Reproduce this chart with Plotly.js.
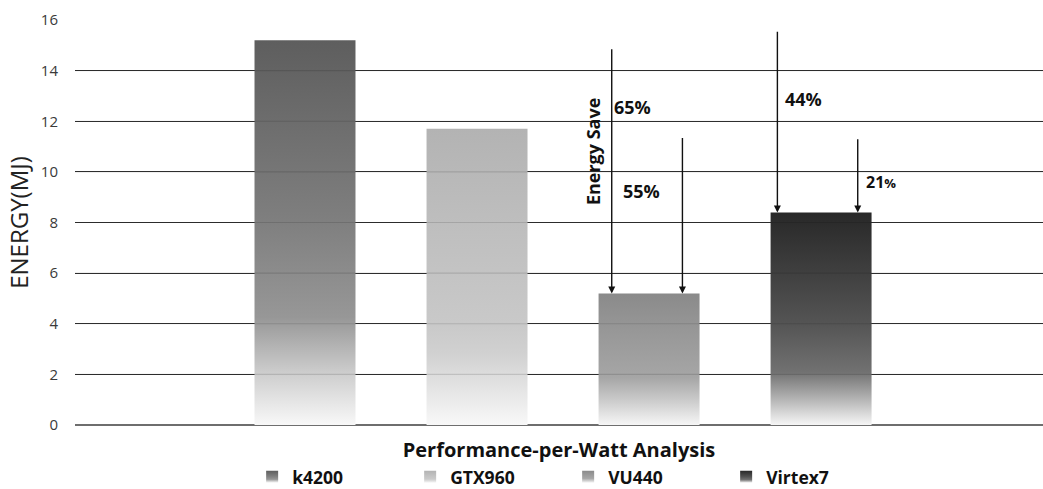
<!DOCTYPE html>
<html>
<head>
<meta charset="utf-8">
<script src="https://cdn.plot.ly/plotly-3.0.1.min.js"></script>
<style>html,body{margin:0;padding:0;background:#fff;}#chart{width:1043px;height:489px;}</style>
</head>
<body>
<div id="chart"></div>
<script>
// ---- data ----
var categories = ['k4200', 'GTX960', 'VU440', 'Virtex7'];
var energyMJ = [15.2, 11.7, 5.2, 8.4];
var yTicks = [0, 2, 4, 6, 8, 10, 12, 14, 16];
// energy-save arrows: [tail value, head category index]
var arrowStart = [14.9, 11.4, 15.6, 11.35];
var arrowTarget = [2, 2, 3, 3];
var saveLabels = ['65%', '55%', '44%', '21<span style="font-size:13px">%</span>'];
var saveLabelY = [12.58, 9.26, 12.88, 9.61];

// ---- styling ----
var gradients = [
  [[0, '#5e5e5e'], [0.47, '#7f7f7f'], [0.72, '#979797'], [0.87, '#cfcfcf'], [1, '#f8f8f8']],
  [[0, '#b3b3b3'], [0.32, '#bebebe'], [0.66, '#c9c9c9'], [0.76, '#d1d1d1'], [1, '#f8f8f8']],
  [[0, '#8a8a8a'], [0.23, '#959595'], [0.64, '#a6a6a6'], [0.8, '#c8c8c8'], [1, '#f6f6f6']],
  [[0, '#282828'], [0.29, '#404040'], [0.52, '#545454'], [0.75, '#717171'], [0.88, '#b5b5b5'], [1, '#f6f6f6']]
];
var baseColors = ['#7f7f7f', '#c4c4c4', '#a0a0a0', '#4a4a4a'];
var arrowX = [1.783, 2.194, 2.746, 3.213];
var labelX = [1.785, 1.837, 2.779, 3.25];

var data = categories.map(function (c, i) {
  return {
    type: 'bar',
    x: [c],
    y: [energyMJ[i]],
    name: c,
    width: 0.587,
    marker: {color: baseColors[i], line: {width: 0}},
    hoverinfo: 'x+y'
  };
});

var annotations = [];
arrowStart.forEach(function (s, i) {
  annotations.push({
    x: arrowX[i], y: energyMJ[arrowTarget[i]], xref: 'x', yref: 'y',
    ax: arrowX[i], ay: s, axref: 'x', ayref: 'y',
    text: '', showarrow: true, arrowhead: 2, arrowsize: 1, arrowwidth: 1.4,
    arrowcolor: '#111', standoff: 0, startstandoff: 0
  });
});
saveLabels.forEach(function (t, i) {
  annotations.push({
    x: labelX[i], y: saveLabelY[i], xref: 'x', yref: 'y',
    text: t, showarrow: false, xanchor: 'left', yanchor: 'middle',
    font: {family: 'Open Sans', size: i === 3 ? 16 : 18, color: '#111', weight: 'bold'}
  });
});
annotations.push({
  x: 1.674, y: 10.82, xref: 'x', yref: 'y', text: 'Energy Save', showarrow: false,
  textangle: -90, xanchor: 'center', yanchor: 'middle',
  font: {family: 'Open Sans', size: 18, color: '#111', weight: 'bold'}
});

var shapes = yTicks.filter(function (v) { return v > 0 && v < 16; }).map(function (v) {
  return {type: 'line', xref: 'paper', x0: 0, x1: 1, yref: 'y', y0: v, y1: v,
          layer: 'above', line: {color: 'rgba(0,0,0,0.13)', width: 1.2}};
});

var layout = {
  width: 1043, height: 489,
  margin: {l: 75, r: 0, t: 20, b: 64, pad: 0, autoexpand: false},
  paper_bgcolor: '#ffffff', plot_bgcolor: '#ffffff',
  barmode: 'overlay',
  showlegend: true,
  xaxis: {
    type: 'category', categoryorder: 'array', categoryarray: categories,
    range: [-1.337, 4.29], showticklabels: false, showgrid: false, zeroline: false,
    showline: false, ticks: '', fixedrange: true,
    title: {text: 'Performance-per-Watt Analysis', standoff: 17,
            font: {family: 'Open Sans', size: 20, color: '#111', weight: 'bold'}}
  },
  yaxis: {
    range: [0, 16], tickvals: yTicks, ticktext: yTicks.map(String),
    showgrid: true, gridcolor: '#333333', gridwidth: 1.2,
    zeroline: true, zerolinecolor: '#6e6e6e', zerolinewidth: 2,
    showline: false, ticks: '', ticklabelstandoff: 16, fixedrange: true,
    tickfont: {family: 'Open Sans', size: 15, color: '#3a3a3a'},
    title: {text: 'ENERGY(MJ)', standoff: 5,
            font: {family: 'Open Sans', size: 24, color: '#222'}}
  },
  legend: {
    orientation: 'h', x: 0.183, xanchor: 'left', y: -0.128, yanchor: 'middle',
    font: {family: 'Open Sans', size: 17.5, color: '#111', weight: 'bold'},
    entrywidth: 113, entrywidthmode: 'pixels', itemwidth: 30,
    bgcolor: 'rgba(0,0,0,0)', traceorder: 'normal'
  },
  annotations: annotations,
  shapes: shapes
};

var gd = document.getElementById('chart');
Plotly.newPlot(gd, data, layout, {displayModeBar: false, staticPlot: true}).then(function () {
  var svg = gd.querySelector('svg.main-svg');
  var ns = 'http://www.w3.org/2000/svg';
  var defs = svg.querySelector('defs');
  if (!defs) { defs = document.createElementNS(ns, 'defs'); svg.insertBefore(defs, svg.firstChild); }
  gradients.forEach(function (stops, i) {
    var lg = document.createElementNS(ns, 'linearGradient');
    lg.setAttribute('id', 'barGrad' + i);
    lg.setAttribute('x1', '0'); lg.setAttribute('y1', '0');
    lg.setAttribute('x2', '0'); lg.setAttribute('y2', '1');
    stops.forEach(function (s) {
      var st = document.createElementNS(ns, 'stop');
      st.setAttribute('offset', s[0]);
      st.setAttribute('stop-color', s[1]);
      lg.appendChild(st);
    });
    defs.appendChild(lg);
  });
  gd.querySelectorAll('.barlayer .trace').forEach(function (t) {
    var d = t.__data__;
    var idx = d && d[0] && d[0].trace ? d[0].trace.index : null;
    if (idx === null) return;
    t.querySelectorAll('path').forEach(function (p) { p.style.fill = 'url(#barGrad' + idx + ')'; });
  });
  gd.querySelectorAll('.legend .traces').forEach(function (t) {
    var d = t.__data__;
    var idx = d && d[0] && d[0].trace ? d[0].trace.index : null;
    if (idx === null) return;
    t.querySelectorAll('.legendpoints path').forEach(function (p) { p.style.fill = 'url(#barGrad' + idx + ')'; });
  });
});
</script>
</body>
</html>
